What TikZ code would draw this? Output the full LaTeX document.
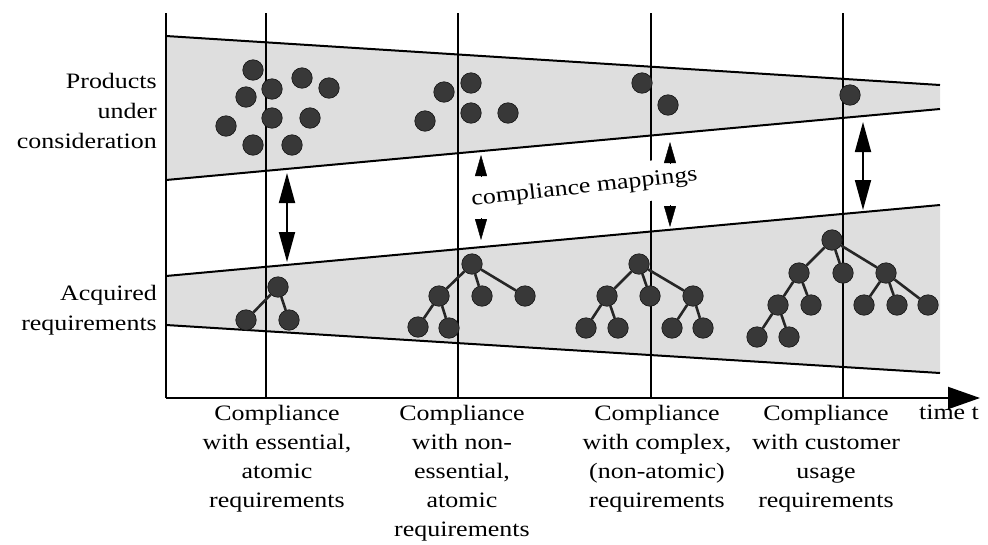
\documentclass[tikz,border=0pt]{standalone}
\usepackage{fontspec}
\setmainfont{Liberation Serif}[FakeStretch=1.18]
\usetikzlibrary{arrows.meta}
\begin{document}
\begin{tikzpicture}[x=1pt,y=-1pt,
  band/.style={fill=black!13},
  bandline/.style={line width=2pt},
  guide/.style={line width=1.3pt},
  axis/.style={line width=2pt},
  ball/.style={circle,fill=black!78,draw=black!92,line width=0.6pt,minimum size=20.5pt,inner sep=0pt},
  branch/.style={line width=2.6pt,draw=black!85},
  mapping/.style={line width=1.8pt,{Triangle[length=30pt,width=16pt]}-{Triangle[length=30pt,width=16pt]}},
  headonly/.style={-{Triangle[length=21pt,width=12pt]}},
  lbl/.style={font=\fontsize{22}{29}\selectfont,align=center,inner sep=0pt},
]
\useasboundingbox (0,0) rectangle (988,544);

% shaded bands
\fill[band] (166,36) -- (940,85) -- (940,109) -- (166,180) -- cycle;
\fill[band] (166,276) -- (940,205) -- (940,373) -- (166,325) -- cycle;

% stage guides
\foreach \gx in {266,458,651,843}
  \draw[guide] (\gx,13) -- (\gx,398);

% axes
\coordinate (origin) at (166,398);
\coordinate (ytop) at (166,13);
\coordinate (tend) at (980,398);
\draw[axis] (origin) -- (ytop);
\draw[axis,-{Triangle[length=32pt,width=22pt]}] (origin) -- (tend);

% band edges
\draw[bandline] (166,36) -- (940,85);
\draw[bandline] (166,180) -- (940,109);
\draw[bandline] (166,276) -- (940,205);
\draw[bandline] (166,325) -- (940,373);

% products under consideration
\foreach \n/\px/\py in {p1/253/70,p2/246/97,p3/272/89,p4/302/78,p5/329/88,
    p6/226/126,p7/272/118,p8/310/118,p9/253/145,p10/292/145,
    p11/425/121,p12/444/92,p13/471/83,p14/471/113,p15/508/113,
    p16/642/83,p17/668/105,p18/850/95}
  \node[ball] (\n) at (\px,\py) {};

% requirement trees
\node[ball] (t1) at (278,287) {};
\node[ball] (t1a) at (246,320) {};
\node[ball] (t1b) at (289,320) {};
\draw[branch] (t1) -- (t1a) (t1) -- (t1b);

\node[ball] (t2) at (472,264) {};
\node[ball] (t2a) at (439,296) {};
\node[ball] (t2b) at (482,296) {};
\node[ball] (t2c) at (525,296) {};
\node[ball] (t2aa) at (418,327) {};
\node[ball] (t2ab) at (449,328) {};
\draw[branch] (t2) -- (t2a) (t2) -- (t2b) (t2) -- (t2c)
  (t2a) -- (t2aa) (t2a) -- (t2ab);

\node[ball] (t3) at (639,264) {};
\node[ball] (t3a) at (607,296) {};
\node[ball] (t3b) at (650,296) {};
\node[ball] (t3c) at (693,296) {};
\node[ball] (t3aa) at (586,328) {};
\node[ball] (t3ab) at (618,328) {};
\node[ball] (t3ca) at (672,328) {};
\node[ball] (t3cb) at (703,328) {};
\draw[branch] (t3) -- (t3a) (t3) -- (t3b) (t3) -- (t3c)
  (t3a) -- (t3aa) (t3a) -- (t3ab) (t3c) -- (t3ca) (t3c) -- (t3cb);

\node[ball] (t4) at (832,240) {};
\node[ball] (t4a) at (799,273) {};
\node[ball] (t4b) at (843,273) {};
\node[ball] (t4c) at (886,273) {};
\node[ball] (t4aa) at (778,305) {};
\node[ball] (t4ab) at (811,305) {};
\node[ball] (t4ca) at (864,305) {};
\node[ball] (t4cb) at (897,305) {};
\node[ball] (t4cc) at (928,305) {};
\node[ball] (t4aaa) at (757,337) {};
\node[ball] (t4aab) at (789,337) {};
\draw[branch] (t4) -- (t4a) (t4) -- (t4b) (t4) -- (t4c)
  (t4a) -- (t4aa) (t4a) -- (t4ab)
  (t4c) -- (t4ca) (t4c) -- (t4cb) (t4c) -- (t4cc)
  (t4aa) -- (t4aaa) (t4aa) -- (t4aab);

% compliance mappings
\coordinate (m1top) at (287,173);
\coordinate (m1bot) at (287,262);
\coordinate (m4top) at (863,122);
\coordinate (m4bot) at (863,210);
\draw[mapping] (m1top) -- (m1bot);
\draw[mapping] (m4top) -- (m4bot);

\node[lbl,fill=white,inner xsep=4pt,inner ysep=10pt,rotate=6.3] (maplabel) at (584.5,188) {compliance mappings};

\coordinate (m2a) at (481,176);
\coordinate (m2b) at (481,155);
\coordinate (m2c) at (481,218);
\coordinate (m2d) at (481,240);
\coordinate (m3a) at (670,163);
\coordinate (m3b) at (670,142);
\coordinate (m3c) at (670,205);
\coordinate (m3d) at (670,227);
\draw[headonly] (m2a) -- (m2b);
\draw[headonly] (m2c) -- (m2d);
\draw[headonly] (m3a) -- (m3b);
\draw[headonly] (m3c) -- (m3d);

% side labels
\node[lbl,font=\fontsize{22}{30}\selectfont,align=right,anchor=north east] (products) at (157,73) {Products\\under\\consideration};
\node[lbl,font=\fontsize{22}{30}\selectfont,align=right,anchor=north east] (acquired) at (157,285) {Acquired\\requirements};

% stage labels
\node[lbl,anchor=north] (s1) at (277,405) {Compliance\\with essential,\\atomic\\requirements};
\node[lbl,anchor=north] (s2) at (462,405) {Compliance\\with non-\\essential,\\atomic\\requirements};
\node[lbl,anchor=north] (s3) at (657,405) {Compliance\\with complex,\\(non-atomic)\\requirements};
\node[lbl,anchor=north] (s4) at (826,405) {Compliance\\with customer\\usage\\requirements};
\node[lbl,anchor=north] (time) at (949,405) {time t};
\end{tikzpicture}
\end{document}
